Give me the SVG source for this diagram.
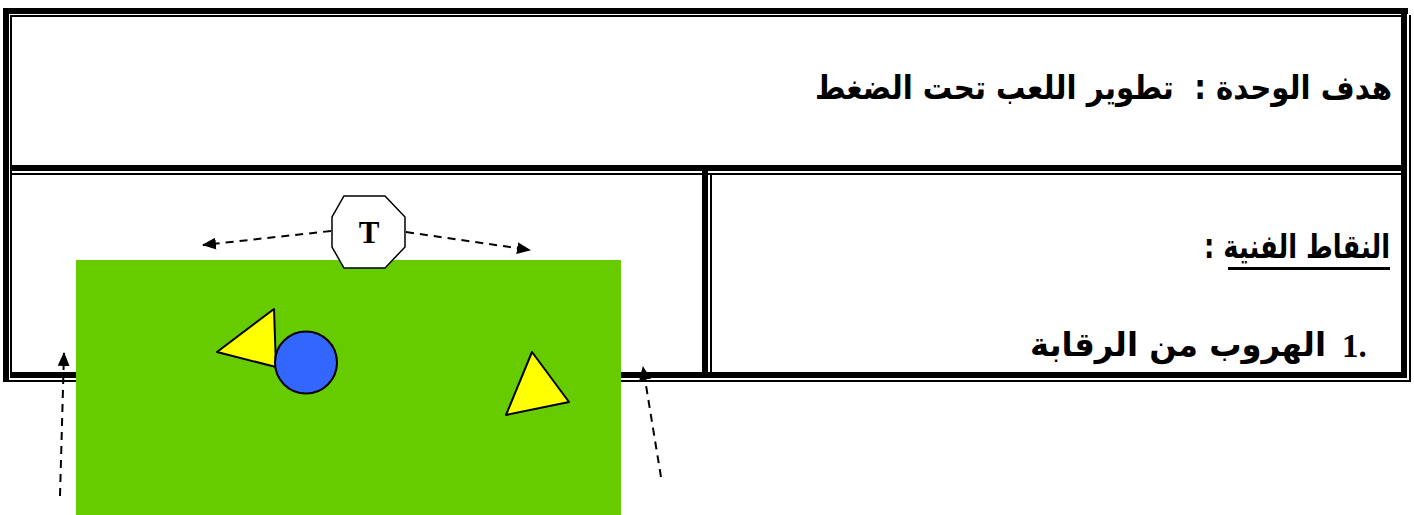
<svg xmlns="http://www.w3.org/2000/svg" width="1414" height="515" viewBox="0 0 1414 515">
<style>
.ln{fill:#000}
.ar{font-family:"DejaVu Sans",sans-serif;font-weight:bold;fill:#000;font-size:33px;direction:rtl;unicode-bidi:embed;white-space:pre}
.sf{font-family:"Liberation Serif",serif;font-weight:bold;fill:#000}
.dash{stroke:#000;stroke-width:2;stroke-dasharray:8 6;fill:none}
.tri{fill:#FFFF00;stroke:#000;stroke-width:2;stroke-linejoin:round}
</style>
<defs>
<marker id="ah" viewBox="0 0 14 12" refX="13" refY="6" markerWidth="14" markerHeight="12" markerUnits="userSpaceOnUse" orient="auto">
<path d="M0,0 L14,6 L0,12 Z" fill="#000"/>
</marker>
</defs>
<rect width="1414" height="515" fill="#fff"/>
<g id="table">
<rect class="ln" x="3" y="8" width="1405" height="6"/>
<rect class="ln" x="10" y="15" width="1391" height="2"/>
<rect class="ln" x="3" y="8" width="6" height="374"/>
<rect class="ln" x="10" y="15" width="2" height="363"/>
<rect class="ln" x="1401" y="8" width="6" height="370"/>
<rect class="ln" x="1409" y="15" width="2" height="367"/>
<rect class="ln" x="10" y="372" width="1397" height="6"/>
<rect class="ln" x="3" y="380" width="1408" height="2"/>
<rect class="ln" x="10" y="165" width="1391" height="6"/>
<rect class="ln" x="10" y="173" width="1391" height="2"/>
<rect class="ln" x="702" y="171" width="6" height="207"/>
<rect class="ln" x="710" y="175" width="2" height="197"/>
</g>
<g id="header">
<text class="ar" xml:space="preserve" x="1392" y="99" text-anchor="start" textLength="577" lengthAdjust="spacingAndGlyphs">هدف الوحدة :  تطوير اللعب تحت الضغط</text>
</g>
<g id="points">
<text class="ar" x="1390" y="258" text-anchor="start" textLength="186" lengthAdjust="spacingAndGlyphs">النقاط الفنية :</text>
<rect class="ln" x="1228" y="267" width="162" height="3"/>
<text class="sf" x="1342" y="357" font-size="33">1.</text>
<text class="ar" x="1326" y="356" text-anchor="start" textLength="296" lengthAdjust="spacingAndGlyphs">الهروب من الرقابة</text>
</g>
<g id="field">
<rect x="76" y="260" width="545" height="255" fill="#66CC00"/>
</g>
<g id="player1"><polygon class="tri" points="274,309 217,352 276,367"/></g>
<g id="ball"><circle cx="306" cy="362.5" r="31" fill="#3366FF" stroke="#000" stroke-width="2"/></g>
<g id="player2"><polygon class="tri" points="532,352 569,402 506,415"/></g>
<g id="connectors">
<line class="dash" x1="331" y1="231" x2="203" y2="245" marker-end="url(#ah)"/>
<line class="dash" x1="406" y1="232" x2="530" y2="250" marker-end="url(#ah)"/>
<line class="dash" x1="60" y1="496" x2="64" y2="353" marker-end="url(#ah)"/>
<line class="dash" x1="661" y1="477" x2="643" y2="367" marker-end="url(#ah)"/>
</g>
<g id="coach">
<polygon points="344,196 385,196 405,217 405,247 385,268 344,268 332,247 332,217" fill="#fff" stroke="#000" stroke-width="1.5"/>
<text class="sf" x="369" y="243" font-size="31" text-anchor="middle">T</text>
</g>
</svg>
